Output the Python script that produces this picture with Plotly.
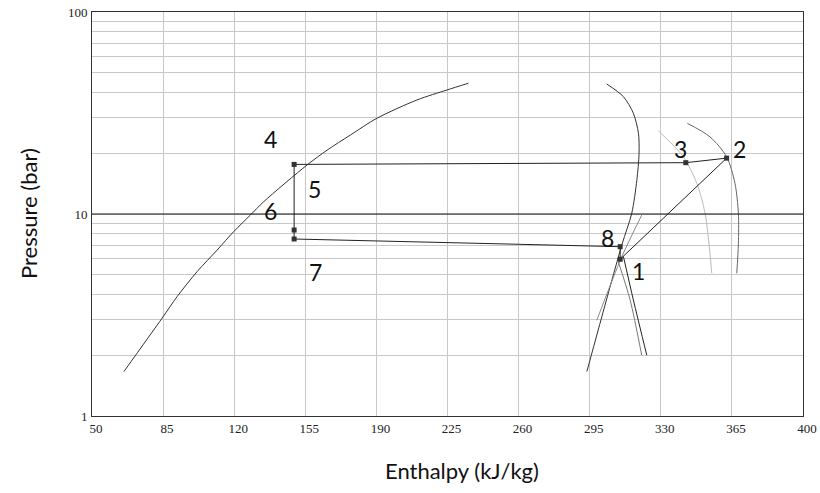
import numpy as np
import plotly.graph_objects as go

# ---- data ----
liq_h = [65.7, 84.5, 91.9, 101.7, 111.6, 119.7, 128, 134.5, 155.9, 165.7, 177.2, 190.3, 210, 224.7, 235.3]
liq_p = [1.66, 3.05, 3.90, 5.18, 6.63, 8.17, 9.89, 11.5, 17.5, 20.7, 24.6, 29.8, 36.7, 41.1, 44.4]

vap_h = [303.4, 311.6, 316.5, 319, 319.3, 318.2, 315.7, 310.8, 293.6]
vap_p = [44.0, 38.1, 31.5, 25.1, 20.0, 14.7, 10.08, 7.02, 1.66]

grayline_h = [298.5, 310.8, 320.6]
grayline_p = [2.98, 6.14, 9.87]

dbl_black_h = [311.6, 316.5, 323.1]
dbl_black_p = [6.16, 3.75, 2.0]
dbl_gray_h = [309.1, 314.9, 320.6]
dbl_gray_p = [5.8, 3.75, 2.0]

light_h = [328.8, 341.1, 347.7, 351.8, 355.1]
light_p = [25.8, 19.2, 14.2, 10.08, 5.09]

dark_h = [343.1, 354.2, 362.4, 366.5, 368.2, 368.2, 367.4]
dark_p = [28.1, 24.1, 19.2, 14.2, 10.08, 7.14, 5.09]

# cycle: 1 -> 2 -> 3 -> 4 -> 6 -> 7 -> 8 -> 1
cyc_h = [310, 362.4, 342.3, 149.5, 149.5, 149.5, 310, 310]
cyc_p = [5.97, 18.9, 17.95, 17.6, 8.33, 7.52, 6.89, 5.97]

mark_h = [310, 362.4, 342.3, 149.5, 149.5, 149.5, 310]
mark_p = [5.97, 18.9, 17.95, 17.6, 8.33, 7.52, 6.89]

lbl_text = ["1", "2", "3", "4", "5", "6", "7", "8"]
lbl_h = [318.8, 368.5, 339.9, 137.8, 159.4, 137.8, 159.9, 303.6]
lbl_p = [5.22, 21.0, 21.0, 23.5, 13.3, 10.35, 5.16, 7.6]

x_ticks = [50, 85, 120, 155, 190, 225, 260, 295, 330, 365, 400]
y_ticks = [1, 10, 100]
y_minor = [2, 3, 4, 5, 6, 7, 8, 9, 20, 30, 40, 50, 60, 70, 80, 90]

fig = go.Figure()

def line(h, p, color, width=1, shape="spline"):
    fig.add_trace(go.Scatter(x=h, y=p, mode="lines",
                             line=dict(color=color, width=width, shape=shape, smoothing=0.8),
                             showlegend=False, hoverinfo="skip"))

line(liq_h, liq_p, "#333333")
line(vap_h, vap_p, "#333333")
line(grayline_h, grayline_p, "#888888")
line(dbl_gray_h, dbl_gray_p, "#777777")
line(dbl_black_h, dbl_black_p, "#222222")
line(light_h, light_p, "#bbbbbb")
line(dark_h, dark_p, "#666666")
line(cyc_h, cyc_p, "#222222", shape="linear")

fig.add_trace(go.Scatter(x=mark_h, y=mark_p, mode="markers",
                         marker=dict(symbol="square", size=5, color="#333333"),
                         showlegend=False, hoverinfo="skip"))

for t, h, p in zip(lbl_text, lbl_h, lbl_p):
    fig.add_annotation(x=h, y=np.log10(p), text=t, showarrow=False,
                       font=dict(family="Lato", size=23, color="#111111"))

# black gridline at 10 bar
fig.add_shape(type="line", xref="paper", x0=0, x1=1, yref="y", y0=10, y1=10,
              line=dict(color="#111111", width=1))

fig.add_annotation(xref="paper", yref="paper", x=-0.09, y=0.5, xanchor="center",
                   yanchor="middle", text="Pressure (bar)", textangle=-90, showarrow=False,
                   font=dict(family="Lato", size=22, color="#111111"))
fig.add_annotation(xref="paper", yref="paper", x=0.52, y=-0.135, xanchor="center",
                   yanchor="middle", text="Enthalpy (kJ/kg)", showarrow=False,
                   font=dict(family="Lato", size=22, color="#111111"))

fig.update_xaxes(range=[50, 400], tickvals=x_ticks, ticktext=[str(v) for v in x_ticks],
                 showgrid=True, gridcolor="#c8c8c8", gridwidth=1, zeroline=False,
                 showline=True, mirror=True, linecolor="#333333", linewidth=1,
                 ticks="", ticklabelshift=4, automargin=False,
                 tickfont=dict(family="Liberation Serif", size=13, color="#222222"))
fig.update_yaxes(type="log", range=[0, 2], tickvals=y_ticks, ticktext=["1", "10", "100"],
                 showgrid=True, gridcolor="#c8c8c8", gridwidth=1, zeroline=False,
                 minor=dict(tickvals=y_minor, showgrid=True, gridcolor="#c8c8c8", gridwidth=1),
                 showline=True, mirror=True, linecolor="#333333", linewidth=1,
                 ticks="", ticklabelstandoff=1, automargin=False,
                 tickfont=dict(family="Liberation Serif", size=13, color="#222222"))

fig.update_layout(width=820, height=493, margin=dict(l=92, r=17, t=12, b=77, autoexpand=False),
                  plot_bgcolor="white", paper_bgcolor="white")

fig.write_html("out.html")
